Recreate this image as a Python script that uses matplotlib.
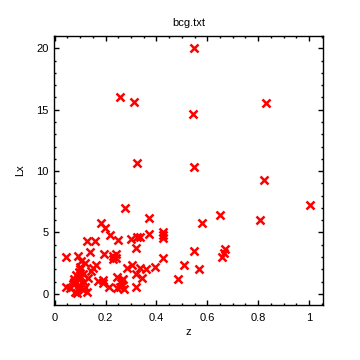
import numpy as np
import matplotlib.pyplot as plt
from matplotlib.ticker import MultipleLocator

# redshift and X-ray luminosity
z = [0.325, 0.547, 0.822, 1.005, 0.278, 0.649, 0.806, 0.370, 0.580, 0.180,
     0.197, 0.219, 0.426, 0.426, 0.426, 0.371, 0.249, 0.127, 0.157, 0.298,
     0.324, 0.337, 0.319, 0.547, 0.671, 0.665, 0.659, 0.140, 0.193, 0.230,
     0.240, 0.230, 0.240, 0.043, 0.092, 0.105, 0.118, 0.151, 0.161, 0.142,
     0.286, 0.302, 0.337, 0.360, 0.394, 0.424, 0.508, 0.319, 0.345, 0.483,
     0.568, 0.319, 0.243, 0.269, 0.171, 0.190, 0.190, 0.214, 0.245, 0.256,
     0.262, 0.265, 0.272, 0.043, 0.059, 0.079, 0.105, 0.125, 0.258, 0.312,
     0.544, 0.832, 0.547, 0.075, 0.085, 0.095, 0.100, 0.110, 0.080, 0.090,
     0.105, 0.115, 0.070, 0.095, 0.110, 0.088, 0.120, 0.100, 0.130, 0.075]
Lx = [10.62, 10.30, 9.27, 7.24, 6.97, 6.42, 6.02, 6.20, 5.80, 5.74,
      5.34, 4.80, 5.07, 4.80, 4.53, 4.85, 4.39, 4.33, 4.33, 4.45,
      4.60, 4.63, 3.71, 3.52, 3.66, 3.36, 3.03, 3.44, 3.25, 3.09,
      3.25, 2.82, 2.90, 3.03, 3.09, 2.71, 2.49, 2.09, 2.36, 1.90,
      2.09, 2.36, 2.09, 2.00, 2.22, 2.90, 2.36, 1.63, 1.27, 1.19,
      2.00, 0.60, 1.41, 1.19, 1.08, 1.14, 0.87, 0.54, 0.45, 0.60,
      0.90, 1.10, 0.40, 0.54, 0.46, 0.19, 0.54, 0.19, 16.07, 15.63,
      14.64, 15.52, 20.00, 1.20, 1.50, 1.80, 2.00, 1.60, 0.90, 1.20,
      1.40, 1.00, 0.80, 0.70, 0.30, 0.10, 0.60, 2.20, 1.30, 1.00]

plt.rcParams['font.family'] = ['Liberation Sans', 'DejaVu Sans']

fig = plt.figure(figsize=(3.6, 3.6), dpi=100)
ax = fig.add_axes([0.15, 0.153, 0.747, 0.747])
ax.plot(z, Lx, 'x', color='red', markersize=6, markeredgewidth=1.8)

ax.set_xlim(-0.003, 1.055)
ax.set_ylim(-0.9, 21)
ax.xaxis.set_minor_locator(MultipleLocator(0.05))
ax.yaxis.set_major_locator(MultipleLocator(5))
ax.yaxis.set_minor_locator(MultipleLocator(1))
ax.set_xticks([0, 0.2, 0.4, 0.6, 0.8, 1.0])
ax.set_xticklabels(['0', '0.2', '0.4', '0.6', '0.8', '1'])
ax.tick_params(which='both', direction='in', top=True, right=True, labelsize=8, width=1)
ax.tick_params(axis='x', pad=6)
ax.tick_params(axis='y', pad=4)
ax.tick_params(which='major', length=3.5)
ax.tick_params(which='minor', length=1.6)
for s in ax.spines.values():
    s.set_linewidth(1)

ax.set_xlabel('z', fontsize=8, labelpad=3)
ax.set_ylabel('Lx', fontsize=8, labelpad=8)
ax.set_title('bcg.txt', fontsize=8, pad=7)

fig.savefig('out.png', dpi=100)
